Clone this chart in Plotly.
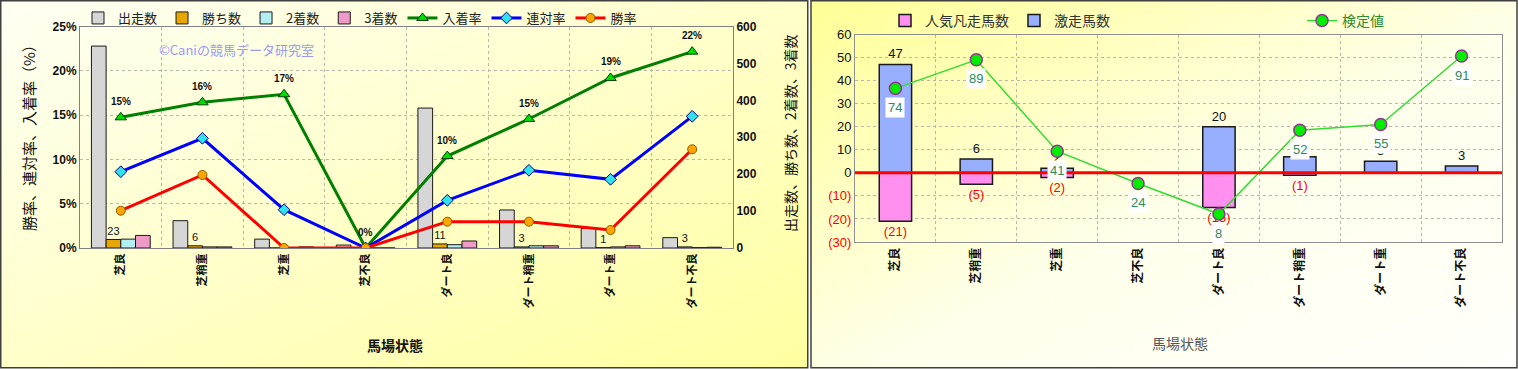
import base64
import plotly.graph_objects as go

# ---------------- data ----------------
categories = ["芝良", "芝稍重", "芝重", "芝不良", "ダート良", "ダート稍重", "ダート重", "ダート不良"]

# left chart (counts on right axis, rates in % on left axis)
starts = [547, 74, 24, 8, 379, 103, 53, 28]
wins = [23, 6, 0, 0, 11, 3, 1, 3]
seconds = [24, 3, 1, 0, 9, 6, 3, 1]
thirds = [34, 3, 3, 0, 19, 6, 6, 2]
place_rate = [14.75, 16.44, 17.35, 0.0, 10.38, 14.56, 19.19, 22.16]
rentai_rate = [8.61, 12.38, 4.32, 0.0, 5.38, 8.77, 7.75, 14.86]
win_rate = [4.21, 8.24, 0.0, 0.0, 2.97, 2.97, 2.03, 11.14]

# right chart
gekiso = [47, 6, 2, 0, 20, 7, 5, 3]          # 激走馬数
bonso = [-21, -5, -2, 0, -15, -1, 0, 0]      # 人気凡走馬数
kentei = [74, 89, 41, 24, 8, 52, 55, 91]     # 検定値

right_ticks = [-30, -20, -10, 0, 10, 20, 30, 40, 50, 60]

FONT = "Liberation Sans, Noto Sans CJK JP, sans-serif"
JP = "Noto Sans CJK JP, sans-serif"

# ---------------- background (panels) ----------------
svg = """<svg xmlns='http://www.w3.org/2000/svg' width='1518' height='369' preserveAspectRatio='none'>
<defs>
<linearGradient id='g1' x1='0' y1='0' x2='1' y2='1'>
<stop offset='0' stop-color='#FFFFF4'/><stop offset='1' stop-color='#FFFFA0'/></linearGradient>
<linearGradient id='g2' x1='0' y1='0' x2='1' y2='1'>
<stop offset='0' stop-color='#FFFF96'/><stop offset='0.55' stop-color='#FFFFEC'/><stop offset='1' stop-color='#FFFFFC'/></linearGradient>
</defs>
<rect x='0.75' y='0.75' width='807' height='367' fill='url(#g1)' stroke='#404040' stroke-width='1.5'/>
<rect x='811' y='0.75' width='706' height='367' fill='url(#g2)' stroke='#404040' stroke-width='1.5'/>
</svg>"""
svg_uri = "data:image/svg+xml;base64," + base64.b64encode(svg.encode("utf-8")).decode("ascii")

fig = go.Figure()

# ---------------- left chart bars ----------------
bar_specs = [
    ("出走数", starts, "#D6D6D6"),
    ("勝ち数", wins, "#E6A800"),
    ("2着数", seconds, "#B3EEF2"),
    ("3着数", thirds, "#F09AC8"),
]
for name, vals, color in bar_specs:
    kw = {}
    if name == "勝ち数":
        kw = dict(text=[str(v) if v else "" for v in vals], textposition="outside",
                  textfont=dict(size=11, color="#111", family=FONT), constraintext="none",
                  cliponaxis=False)
    fig.add_trace(go.Bar(
        x=categories, y=vals, name=name, xaxis="x", yaxis="y", legend="legend",
        marker=dict(color=color, line=dict(color="#1a1a1a", width=1)), **kw))

# ---------------- left chart lines ----------------
line_specs = [
    ("入着率", place_rate, "#008000", "triangle-up", "#00DD00", "#004000", 10),
    ("連対率", rentai_rate, "#0000FF", "diamond", "#33E0F0", "#000080", 9),
    ("勝率", win_rate, "#FF0000", "circle", "#FFA500", "#8B5A00", 9),
]
for name, vals, lc, sym, mc, mlc, ms in line_specs:
    fig.add_trace(go.Scatter(
        x=categories, y=vals, name=name, xaxis="x", yaxis="y2", legend="legend",
        mode="lines+markers", line=dict(color=lc, width=3),
        marker=dict(symbol=sym, color=mc, size=ms, line=dict(color=mlc, width=1))))

# ---------------- right chart bars ----------------
fig.add_trace(go.Bar(
    x=categories, y=bonso, name="人気凡走馬数", xaxis="x2", yaxis="y3", legend="legend2",
    offset=-0.2, width=0.4,
    marker=dict(color="#FF90F0", line=dict(color="#1a1a1a", width=1.5)),
    text=[f"({-v})" if v else "" for v in bonso], textposition="outside",
    textfont=dict(size=13, color="#FF0000", family=FONT), constraintext="none", cliponaxis=False))
fig.add_trace(go.Bar(
    x=categories, y=gekiso, name="激走馬数", xaxis="x2", yaxis="y3", legend="legend2",
    offset=-0.2, width=0.4,
    marker=dict(color="#98AEFF", line=dict(color="#1a1a1a", width=1.5)),
    text=[str(v) if v else "" for v in gekiso], textposition="outside",
    textfont=dict(size=13, color="#111", family=FONT), constraintext="none", cliponaxis=False))

fig.add_trace(go.Scatter(
    x=categories, y=kentei, name="検定値", xaxis="x2", yaxis="y4", legend="legend3",
    mode="lines+markers", line=dict(color="#33DD33", width=1.5),
    marker=dict(symbol="circle", color="#00EE00", size=12, line=dict(color="#993399", width=1.5))))

# ---------------- annotations ----------------
annotations = []
for c, v in zip(categories, place_rate):
    annotations.append(dict(x=c, y=v, xref="x", yref="y2", text=f"{round(v)}%", showarrow=False,
                            yshift=16, font=dict(size=10, color="#111", family=FONT, weight="bold")))
for c, v in zip(categories, kentei):
    annotations.append(dict(x=c, y=v, xref="x2", yref="y4", text=str(v), showarrow=False,
                            yshift=-19, bgcolor="white", borderpad=2,
                            font=dict(size=13, color="#2E8B57", family=FONT)))
paper_texts = [
    (237, 50, "©Caniの競馬データ研究室", 0, dict(size=13, color="#9A9AF5", family=JP)),
    (28, 134, "勝率、連対率、入着率（%）", -90, dict(size=15, color="#111", family=JP)),
    (790, 133, "出走数、勝ち数、2着数、3着数", -90, dict(size=14, color="#111", family=JP)),
    (395, 345, "<b>馬場状態</b>", 0, dict(size=14, color="#111", family=JP)),
    (1180, 343, "馬場状態", 0, dict(size=14, color="#555", family=JP)),
]
for px, py, txt, ang, fnt in paper_texts:
    annotations.append(dict(x=px / 1518, y=1 - py / 369, xref="paper", yref="paper", text=txt,
                            showarrow=False, textangle=ang, xanchor="center", yanchor="middle",
                            font=fnt))

grid = dict(showgrid=True, gridcolor="#BDB6A8", griddash="dot", gridwidth=1)

fig.update_layout(
    width=1518, height=369, autosize=False,
    margin=dict(l=0, r=0, t=0, b=0, autoexpand=False),
    paper_bgcolor="white", plot_bgcolor="#F6EDD9",
    font=dict(family=FONT, color="#111"),
    barmode="group", bargap=0.28, bargroupgap=0,
    images=[dict(source=svg_uri, xref="paper", yref="paper", x=0, y=1, sizex=1, sizey=1,
                 sizing="stretch", xanchor="left", yanchor="top", layer="below")],
    xaxis=dict(domain=[80 / 1518, 733 / 1518], anchor="y", type="category", tickangle=-90,
               tickfont=dict(size=11, family=JP, weight="bold"), tickson="boundaries", ticks="",
               showline=True, linecolor="#808080", mirror=True, automargin=False, **grid),
    yaxis=dict(domain=[1 - 248 / 369, 1 - 26.5 / 369], anchor="x", side="right", range=[0, 600],
               dtick=100, showgrid=False, zeroline=False, showline=True, linecolor="#808080",
               automargin=False, tickfont=dict(size=12, weight="bold")),
    yaxis2=dict(overlaying="y", anchor="x", side="left", range=[0, 25], dtick=5, ticksuffix="%",
                zeroline=False, showline=True, linecolor="#808080", automargin=False,
                tickfont=dict(size=12, weight="bold"), **grid),
    xaxis2=dict(domain=[855 / 1518, 1502 / 1518], anchor="y3", type="category", tickangle=-90,
                tickfont=dict(size=12, family=JP, weight="bold"), tickson="boundaries", ticks="",
                showline=True, linecolor="#909090", mirror=True, automargin=False, **grid),
    yaxis3=dict(domain=[1 - 242 / 369, 1 - 34.5 / 369], anchor="x2", range=[-30, 60],
                tickvals=right_ticks,
                ticktext=[f"<span style='color:#FF0000'>({-t})</span>" if t < 0 else str(t)
                          for t in right_ticks],
                zeroline=False, showline=True, linecolor="#909090", mirror=True,
                automargin=False, tickfont=dict(size=13), **grid),
    yaxis4=dict(overlaying="y3", anchor="x2", range=[-6.7, 102.3], visible=False,
                automargin=False),
    legend=dict(orientation="h", x=78 / 1518, y=1 - 3 / 369, xanchor="left", yanchor="top",
                bgcolor="rgba(0,0,0,0)", font=dict(size=13, family=JP, color="#222")),
    legend2=dict(orientation="h", x=885 / 1518, y=1 - 5 / 369, xanchor="left", yanchor="top",
                 itemwidth=30, bgcolor="rgba(0,0,0,0)", font=dict(size=14, family=JP, color="#333")),
    legend3=dict(orientation="h", x=1302 / 1518, y=1 - 5 / 369, xanchor="left", yanchor="top",
                 bgcolor="rgba(0,0,0,0)", font=dict(size=14, family=JP, color="#2E8B2E")),
    annotations=annotations,
    shapes=[dict(type="line", xref="x2 domain", x0=0, x1=1, yref="y3", y0=0, y1=0,
                 line=dict(color="#FF0000", width=3), layer="above")],
)

fig.write_html(
    "out.html",
    config={"displayModeBar": False},
    post_script="document.body.style.margin='0';document.body.style.overflow='hidden';"
                "document.documentElement.style.overflow='hidden';",
)
